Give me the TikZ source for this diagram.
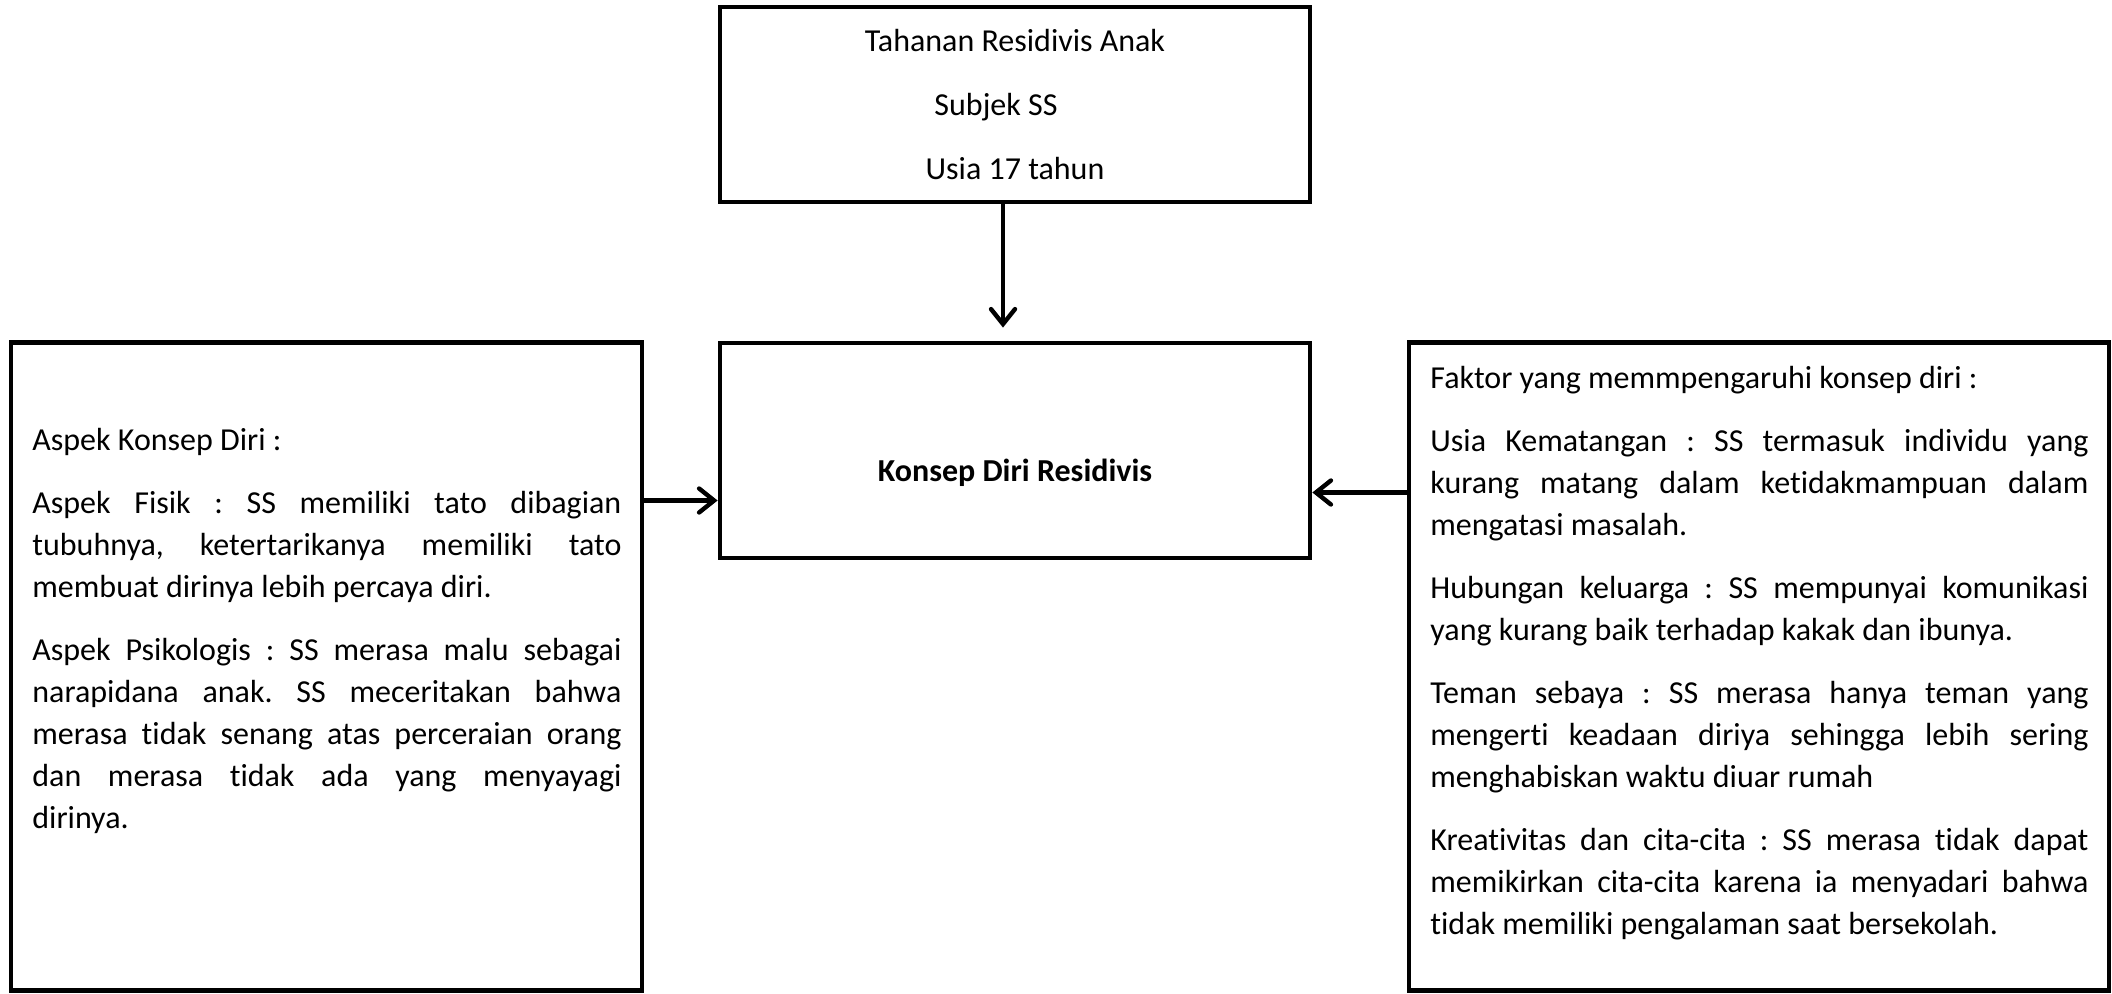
\documentclass[tikz,border=0pt]{standalone}
\usepackage{fontspec}
\setmainfont[Ligatures=NoCommon]{Carlito}
\usetikzlibrary{arrows.meta,positioning}
\frenchspacing

\newcommand{\paratur}{\setlength{\parskip}{10.5pt}\hyphenpenalty=10000\exhyphenpenalty=10000\tolerance=10000\relax}

\begin{document}
\begin{tikzpicture}[
  x=0.5pt, y=-0.5pt,
  every node/.style={font=\fontsize{16pt}{21pt}\selectfont},
  box/.style={draw, line width=2.4pt, inner sep=0pt},
  para/.style={inner sep=0pt, anchor=north west, align=justify},
  arr/.style={-{Straight Barb[length=7.5pt,width=12pt,line cap=round]}, line width=2.2pt}
]

\useasboundingbox (0,0) rectangle (2112,994);

% Boxes
\node[box, minimum width=295pt, minimum height=97.5pt, align=center,
  font=\fontsize{16pt}{32pt}\selectfont] (tahanan) at (1015,104.5)
  {Tahanan Residivis Anak\\Subjek SS\rule{19pt}{0pt}\\Usia 17 tahun};
\node[box, minimum width=295pt, minimum height=107.5pt] (konsep) at (1015,450.5) {};
\node[font=\fontsize{16pt}{21pt}\selectfont\bfseries] (konsepteks) at (1015,473) {Konsep Diri Residivis};
\node[box, minimum width=315.5pt, minimum height=324pt] (aspek) at (326.5,666.5) {};
\node[box, minimum width=350pt, minimum height=324pt] (faktor) at (1759,666.5) {};

% Texts in the side boxes
\node[para, text width=294.5pt] (aspekteks) at (32,428) {\paratur
Aspek Konsep Diri :\par
Aspek Fisik : SS memiliki tato dibagian\linebreak tubuhnya, ketertarikanya memiliki tato\linebreak membuat dirinya lebih percaya diri.\par
Aspek Psikologis : SS merasa malu sebagai\linebreak narapidana anak. SS meceritakan bahwa\linebreak merasa tidak senang atas perceraian orang\linebreak dan merasa tidak ada yang menyayagi\linebreak dirinya.};
\node[para, text width=329pt] (faktorteks) at (1430,366) {\paratur
Faktor yang memmpengaruhi konsep diri :\par
Usia Kematangan : SS termasuk individu yang\linebreak kurang matang dalam ketidakmampuan dalam\linebreak mengatasi masalah.\par
Hubungan keluarga : SS mempunyai komunikasi\linebreak yang kurang baik terhadap kakak dan ibunya.\par
Teman sebaya : SS merasa hanya teman yang\linebreak mengerti keadaan diriya sehingga lebih sering\linebreak menghabiskan waktu diuar rumah\par
Kreativitas dan cita-cita : SS merasa tidak dapat\linebreak memikirkan cita-cita karena ia menyadari bahwa\linebreak tidak memiliki pengalaman saat bersekolah.};

% Arrows
\coordinate (masukkiri) at ([yshift=-25pt]konsep.west);
\coordinate (masukkanan) at ([yshift=-21pt]konsep.east);
\draw[arr, shorten >=6.5pt] ([xshift=-6pt]tahanan.south) -- ([xshift=-6pt]konsep.north);
\draw[arr] (aspek.east |- masukkiri) -- (masukkiri);
\draw[arr] (faktor.west |- masukkanan) -- (masukkanan);

\end{tikzpicture}
\end{document}
